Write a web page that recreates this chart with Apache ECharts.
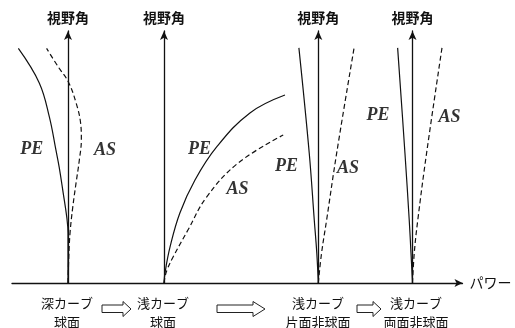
<!DOCTYPE html>
<html><head><meta charset="utf-8">
<script src="https://cdn.jsdelivr.net/npm/echarts@6/dist/echarts.min.js"></script>
<style>html,body{margin:0;padding:0;background:#fff}#c{width:515px;height:328px}</style>
</head><body><div id="c"></div>
<script>
// ---- text ----
const yAxisName = '視野角';
const xAxisName = 'パワー';
const stageLabels = ['深カーブ\n球面', '浅カーブ\n球面', '浅カーブ\n片面非球面', '浅カーブ\n両面非球面'];
const curveNames = ['PE', 'AS'];

// ---- data: [power offset from panel axis, viewing angle] ----
const pe1 = [[0,0],[0,12],[0,19.8],[-0.5,26.2],[-1.9,35.7],[-3.5,46.0],[-4.8,52.8],[-7.4,65.9],[-11.4,79.4],[-19.7,93.1]];
const as1 = [[0,0],[0.3,10],[0.8,19.8],[1.9,30.2],[3.2,39.7],[4.5,48.8],[5.3,57.0],[5.0,63.5],[3.2,71.5],[0.1,79.9],[-3.9,85.8],[-8.5,93.1]];
const pe2 = [[0,0],[0.4,4.0],[2.4,14.3],[6.3,27.8],[12.3,40.9],[20.9,54.0],[34.1,67.5],[48.0,74.6]];
const as2 = [[0,0],[0.4,2.5],[1.2,5.2],[3.6,10.3],[9.5,21.0],[16.9,34.1],[29.4,47.6],[47.3,58.7]];
const pe3 = [[0,0],[-0.6,11.9],[-1.6,25.0],[-3.6,51.6],[-7.7,93.3]];
const as3 = [[0,0],[1.3,11.9],[3.3,25.0],[7.3,51.6],[14.2,93.3]];
const pe4 = [[0,0],[-0.6,11.9],[-1.3,25.0],[-3.0,51.6],[-5.9,93.3]];
const as4 = [[0,0],[0.7,11.9],[2.1,25.0],[5.6,51.6],[11.7,93.3]];
const peData = [pe1, pe2, pe3, pe4];
const asData = [as1, as2, as3, as4];

// ---- layout ----
const axisPx = [68, 164, 318.3, 412.5];
const unitPx = 2.52;
const xMin = -25;
const xMax = [45, 50, 45, 40];
const gridTop = 31, gridH = 252;
const peLabelAt = [[-14.4,53.2],[14.1,53.2],[-12.6,46.4],[-13.7,66.7]];
const asLabelAt = [[14.7,52.8],[29.2,37.3],[11.8,45.6],[14.7,65.9]];
const stageCenters = [67, 163, 318, 416];
const arrowsX = [[102,123,131],[217,253,265],[357,373,381]];

const cjk = '"Noto Sans CJK JP", "Noto Sans", sans-serif';
const grid = [], xAxis = [], yAxis = [], series = [];
for (let i = 0; i < 4; i++) {
  grid.push({left: axisPx[i] + xMin * unitPx, width: (xMax[i] - xMin) * unitPx, top: gridTop, height: gridH});
  xAxis.push({type: 'value', gridIndex: i, min: xMin, max: xMax[i], show: false});
  yAxis.push({
    type: 'value', gridIndex: i, min: 0, max: 100,
    name: yAxisName, nameLocation: 'end', nameGap: 6,
    nameTextStyle: {fontFamily: cjk, fontSize: 14, color: '#111', fontWeight: 'bold', align: 'center'},
    axisLine: {show: true, onZero: true, symbol: ['none', 'arrow'], symbolSize: [6, 9], lineStyle: {color: '#111', width: 1.3}},
    axisTick: {show: false}, axisLabel: {show: false}, splitLine: {show: false}
  });
  series.push({
    type: 'line', name: curveNames[0], xAxisIndex: i, yAxisIndex: i, data: peData[i],
    smooth: 0.4, symbol: 'none', lineStyle: {color: '#111', width: 1.2}, silent: true
  });
  series.push({
    type: 'line', name: curveNames[1], xAxisIndex: i, yAxisIndex: i, data: asData[i],
    smooth: 0.4, symbol: 'none', lineStyle: {color: '#111', width: 1.2, type: [5, 3]}, silent: true
  });
  series.push({
    type: 'scatter', xAxisIndex: i, yAxisIndex: i, symbolSize: 0, silent: true,
    data: [{value: peLabelAt[i], name: curveNames[0]}, {value: asLabelAt[i], name: curveNames[1]}],
    label: {show: true, position: 'inside', formatter: p => p.name, color: '#000',
      fontFamily: 'Liberation Serif', fontStyle: 'italic', fontWeight: 'bold', fontSize: 18}
  });
}
// horizontal power axis
grid.push({left: 12, width: 450.5, top: gridTop, height: gridH});
xAxis.push({
  type: 'value', gridIndex: 4, min: 0, max: 1,
  name: xAxisName, nameLocation: 'end', nameGap: 7,
  nameTextStyle: {fontFamily: cjk, fontSize: 14, color: '#111'},
  axisLine: {show: true, onZero: false, symbol: ['none', 'arrow'], symbolSize: [6, 8], lineStyle: {color: '#111', width: 1.3}},
  axisTick: {show: false}, axisLabel: {show: false}, splitLine: {show: false}
});
yAxis.push({type: 'value', gridIndex: 4, min: 0, max: 1, show: false});

const graphic = [];
stageLabels.forEach((t, i) => {
  graphic.push({type: 'text', x: stageCenters[i], y: 293.5,
    style: {text: t, fill: '#111', font: '13px ' + cjk, textAlign: 'center', textVerticalAlign: 'top', lineHeight: 19}});
});
arrowsX.forEach(a => {
  const [x0, x1, x2] = a;
  graphic.push({type: 'polygon', shape: {points: [[x0,305],[x1,305],[x1,301.5],[x2,309],[x1,316.5],[x1,312.5],[x0,312.5]]},
    style: {fill: '#fff', stroke: '#222', lineWidth: 1}});
});

const chart = echarts.init(document.getElementById('c'), null, {renderer: 'canvas'});
chart.setOption({animation: false, backgroundColor: '#fff', grid, xAxis, yAxis, series, graphic});
</script>
</body></html>
